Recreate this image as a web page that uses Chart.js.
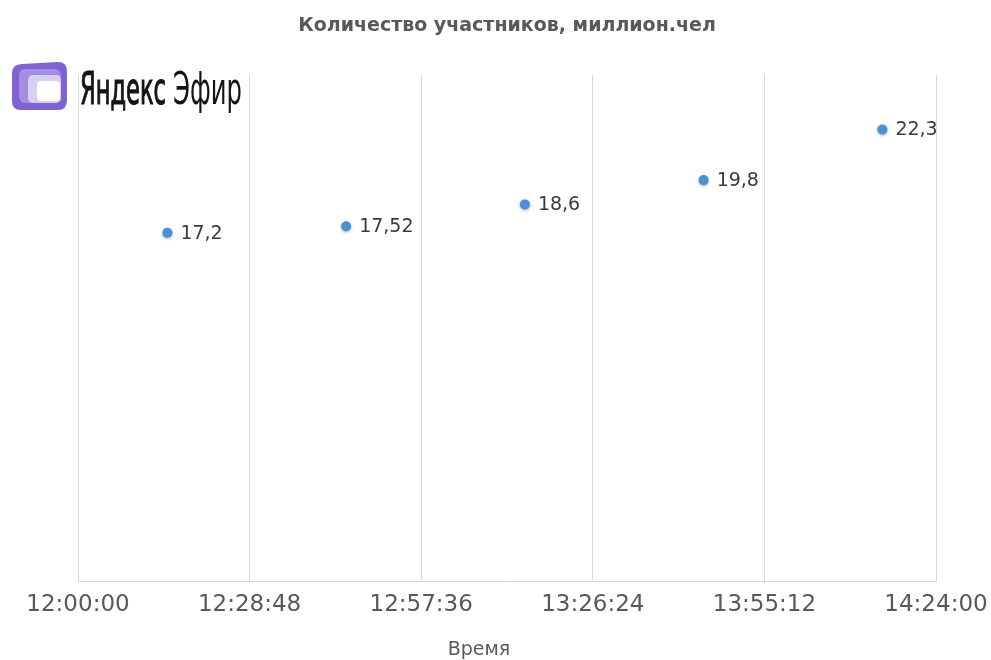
<!DOCTYPE html>
<html>
<head>
<meta charset="utf-8">
<script src="https://cdn.jsdelivr.net/npm/chart.js@4"></script>
<style>
  html, body { margin: 0; padding: 0; background: #fff; }
  #wrap { width: 991px; height: 660px; position: relative; }
</style>
</head>
<body>
<div id="wrap"><canvas id="chart"></canvas></div>
<script>
// data
const times = ['12:15:00', '12:45:00', '13:15:00', '13:45:00', '14:15:00'];
const participants = [17.2, 17.52, 18.6, 19.8, 22.3];
const xTickLabels = ['12:00:00', '12:28:48', '12:57:36', '13:26:24', '13:55:12', '14:24:00'];

const titleText = 'Количество участников, миллион.чел';
const xTitleText = 'Время';
const logoWords = ['Яндекс', 'Эфир'];

function toSec(s) {
  const p = s.split(':').map(Number);
  return p[0] * 3600 + p[1] * 60 + p[2];
}
function fmtComma(v) { return String(v).replace('.', ','); }

const xMin = toSec(xTickLabels[0]);
const xMax = toSec(xTickLabels[xTickLabels.length - 1]);
const xStep = (xMax - xMin) / (xTickLabels.length - 1);

const points = times.map((t, i) => ({ x: toSec(t), y: participants[i] }));

// value labels right of the points
const valueLabels = {
  id: 'valueLabels',
  afterDatasetsDraw(chart) {
    const ctx = chart.ctx;
    const meta = chart.getDatasetMeta(0);
    ctx.save();
    ctx.font = '19px "DejaVu Sans"';
    ctx.fillStyle = '#3a3a3a';
    ctx.textAlign = 'left';
    ctx.textBaseline = 'middle';
    meta.data.forEach((pt, i) => {
      ctx.fillText(fmtComma(participants[i]), pt.x + 13, pt.y + 1);
    });
    ctx.restore();
  }
};

// soft shadow under the markers
const markerShadow = {
  id: 'markerShadow',
  beforeDatasetDraw(chart) {
    const ctx = chart.ctx;
    ctx.save();
    ctx.shadowColor = 'rgba(0,0,0,0.35)';
    ctx.shadowBlur = 3;
    ctx.shadowOffsetY = 1;
  },
  afterDatasetDraw(chart) { chart.ctx.restore(); }
};

function squeezed(ctx, text, x, y, width, stroke) {
  const w = ctx.measureText(text).width;
  ctx.save();
  ctx.translate(x, y);
  ctx.scale(width / w, 1);
  ctx.fillText(text, 0, 0);
  if (stroke) {
    ctx.lineWidth = stroke;
    ctx.strokeText(text, 0, 0);
  }
  ctx.restore();
}

// logo + x axis title
const extras = {
  id: 'extras',
  afterDraw(chart) {
    const ctx = chart.ctx;
    ctx.save();
    // icon
    ctx.fillStyle = '#8063d2';
    ctx.beginPath();
    ctx.moveTo(22, 64);
    ctx.lineTo(58, 62);
    ctx.quadraticCurveTo(67, 62, 67, 71);
    ctx.lineTo(67, 100);
    ctx.quadraticCurveTo(67, 110, 58, 110);
    ctx.lineTo(21, 110);
    ctx.quadraticCurveTo(12, 110, 12, 101);
    ctx.lineTo(12, 74);
    ctx.quadraticCurveTo(12, 64, 22, 64);
    ctx.fill();
    ctx.fillStyle = '#a58ee2';
    ctx.beginPath();
    ctx.roundRect(19, 69, 42, 34, 6);
    ctx.fill();
    ctx.fillStyle = '#d8cff5';
    ctx.beginPath();
    ctx.roundRect(28, 75, 33, 28, 5);
    ctx.fill();
    ctx.fillStyle = '#ffffff';
    ctx.beginPath();
    ctx.roundRect(37, 81, 23, 20, 4);
    ctx.fill();

    // logo text, squeezed to width
    ctx.fillStyle = '#151515';
    ctx.strokeStyle = '#151515';
    ctx.textBaseline = 'alphabetic';
    ctx.font = '44px "Liberation Sans Narrow", "DejaVu Sans Condensed", sans-serif';
    squeezed(ctx, logoWords[0], 80, 104, 86, 1.2);
    squeezed(ctx, logoWords[1], 173, 104, 69, 0);
    ctx.restore();

    ctx.save();
    ctx.font = '19px "DejaVu Sans"';
    ctx.fillStyle = '#595959';
    ctx.textAlign = 'center';
    ctx.textBaseline = 'middle';
    ctx.fillText(xTitleText, 479, 650);
    ctx.restore();
  }
};

new Chart(document.getElementById('chart'), {
  type: 'scatter',
  data: {
    datasets: [{
      label: 'participants',
      data: points,
      backgroundColor: '#4a90d9',
      borderColor: '#4a90d9',
      pointRadius: 5,
      pointHoverRadius: 5,
      borderWidth: 0
    }]
  },
  options: {
    responsive: true,
    maintainAspectRatio: false,
    animation: false,
    layout: { padding: { left: 78, right: 55, top: 0, bottom: 0 } },
    plugins: {
      legend: { display: false },
      tooltip: { enabled: false },
      title: {
        display: true,
        text: titleText,
        fullSize: false,
        color: '#595959',
        font: { family: 'DejaVu Sans', size: 19, weight: 'bold', lineHeight: 1.2 },
        padding: { top: 15, bottom: 37 }
      }
    },
    scales: {
      x: {
        type: 'linear',
        min: xMin,
        max: xMax,
        afterFit: (s) => { s.height = 79; s.paddingLeft = 0; s.paddingRight = 0; },
        grid: { color: '#d9d9d9', drawTicks: false },
        border: { display: true, color: '#d9d9d9' },
        ticks: {
          stepSize: xStep,
          padding: 10,
          color: '#595959',
          maxRotation: 0,
          autoSkip: false,
          font: { family: 'DejaVu Sans', size: 23 },
          callback: (v, i) => xTickLabels[i]
        }
      },
      y: {
        display: false,
        min: 0,
        max: 25
      }
    }
  },
  plugins: [markerShadow, valueLabels, extras]
});
</script>
</body>
</html>
